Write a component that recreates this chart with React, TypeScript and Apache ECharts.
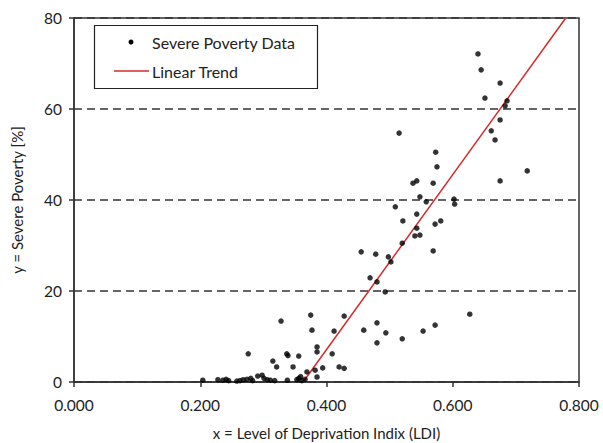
import React, { useEffect, useRef } from "react";
import * as echarts from "echarts";

const xTicks = ["0.000", "0.200", "0.400", "0.600", "0.800"];
const yTicks = [0, 20, 40, 60, 80];

const povertyData: [number, number][] = [
  [0.204, 0.4], [0.228, 0.5], [0.236, 0.4], [0.241, 0.6], [0.245, 0.3], [0.258, 0.2],
  [0.263, 0.3], [0.268, 0.5], [0.274, 0.6], [0.280, 0.8], [0.283, 0.3], [0.291, 1.3],
  [0.298, 1.5], [0.301, 0.8], [0.306, 0.5], [0.311, 0.4], [0.318, 0.3], [0.338, 0.4],
  [0.353, 0.5], [0.356, 0.8], [0.359, 1.2], [0.361, 0.3], [0.366, 0.6],
  [0.276, 6.2], [0.315, 4.6], [0.321, 3.3], [0.328, 13.4], [0.337, 6.2], [0.339, 5.8],
  [0.347, 3.3], [0.356, 5.7], [0.369, 2.2], [0.375, 14.7], [0.377, 11.4], [0.385, 7.7],
  [0.385, 6.6], [0.382, 2.6], [0.385, 1.1], [0.394, 3.1], [0.409, 6.2], [0.412, 11.2],
  [0.420, 3.3], [0.428, 3.0], [0.428, 14.5], [0.459, 11.4], [0.480, 13.0], [0.480, 8.6],
  [0.494, 10.8], [0.520, 9.5], [0.553, 11.2], [0.572, 12.5], [0.627, 14.9],
  [0.455, 28.6], [0.478, 28.1], [0.498, 27.5], [0.502, 26.4], [0.469, 22.9], [0.480, 22.0],
  [0.493, 19.8], [0.520, 30.5], [0.540, 32.1], [0.548, 32.3], [0.543, 33.8], [0.521, 35.4],
  [0.543, 36.9], [0.509, 38.5], [0.548, 40.7], [0.558, 39.6], [0.537, 43.7], [0.543, 44.2],
  [0.515, 54.7], [0.569, 28.8], [0.572, 34.7], [0.581, 35.4], [0.602, 40.2], [0.603, 39.1],
  [0.569, 43.7], [0.575, 47.3], [0.573, 50.5], [0.675, 44.2], [0.718, 46.4], [0.661, 55.2],
  [0.667, 53.2], [0.675, 57.6], [0.683, 60.7], [0.686, 61.8], [0.651, 62.4], [0.675, 65.7],
  [0.645, 68.6], [0.640, 72.1],
];

const trendData: [number, number][] = [
  [0.363, 0],
  [0.779, 80],
];

const FONT = "Lato";

export default function App() {
  const ref = useRef<HTMLDivElement>(null);
  useEffect(() => {
    if (!ref.current) return;
    const chart = echarts.init(ref.current, null, { renderer: "svg" });
    chart.setOption({
      animation: false,
      backgroundColor: "#ffffff",
      grid: {
        left: 74,
        right: 24,
        top: 18,
        bottom: 61,
        outerBoundsMode: "none",
        containLabel: false,
        show: true,
        borderColor: "#333333",
        borderWidth: 1.5,
        backgroundColor: "transparent",
      },
      xAxis: {
        type: "value",
        min: 0,
        max: 0.8,
        interval: 0.2,
        name: "x = Level of Deprivation Indix (LDI)",
        nameLocation: "middle",
        nameGap: 43,
        nameTextStyle: { fontFamily: FONT, fontSize: 15, color: "#222" },
        axisLine: { show: true, lineStyle: { color: "#333", width: 1.5 } },
        axisTick: { show: true, length: 5, lineStyle: { color: "#333", width: 1.5 } },
        axisLabel: {
          fontFamily: FONT,
          fontSize: 15.5,
          color: "#222",
          margin: 15,
          formatter: (v: number) => xTicks[Math.round(v / 0.2)] ?? "",
        },
        splitLine: { show: false },
      },
      yAxis: {
        type: "value",
        min: 0,
        max: 80,
        interval: 20,
        name: "y = Severe Poverty [%]",
        nameLocation: "middle",
        nameGap: 50,
        nameTextStyle: { fontFamily: FONT, fontSize: 15, color: "#222" },
        axisLine: { show: true, lineStyle: { color: "#333", width: 1.5 } },
        axisTick: { show: true, length: 5, lineStyle: { color: "#333", width: 1.5 } },
        axisLabel: {
          fontFamily: FONT,
          fontSize: 15.5,
          color: "#222",
          margin: 12,
          formatter: (v: number) => (yTicks.includes(v) ? String(v) : ""),
        },
        splitLine: {
          show: true,
          lineStyle: { color: "#333", width: 1.5, type: [8, 5] },
        },
      },
      series: [
        {
          name: "Severe Poverty Data",
          type: "scatter",
          data: povertyData,
          symbol: "circle",
          symbolSize: 5.5,
          itemStyle: { color: "#000000" },
          z: 3,
        },
        {
          name: "Linear Trend",
          type: "line",
          data: trendData,
          showSymbol: false,
          lineStyle: { color: "#d42a2a", width: 1.5 },
          z: 2,
        },
      ],
      graphic: [
        {
          type: "rect",
          shape: { x: 94.5, y: 25.5, width: 223, height: 63 },
          style: { fill: "#ffffff", stroke: "#222", lineWidth: 1.2 },
          z: 100,
        },
        {
          type: "circle",
          shape: { cx: 131, cy: 42, r: 2.5 },
          style: { fill: "#000" },
          z: 101,
        },
        {
          type: "text",
          x: 152,
          y: 42,
          style: {
            text: "Severe Poverty Data",
            fontFamily: FONT,
            fontSize: 16,
            fill: "#222",
            verticalAlign: "middle",
          },
          z: 101,
        },
        {
          type: "line",
          shape: { x1: 114, y1: 71, x2: 149, y2: 71 },
          style: { stroke: "#d42a2a", lineWidth: 1.5 },
          z: 101,
        },
        {
          type: "text",
          x: 152,
          y: 71,
          style: {
            text: "Linear Trend",
            fontFamily: FONT,
            fontSize: 16,
            fill: "#222",
            verticalAlign: "middle",
          },
          z: 101,
        },
      ],
    });
    return () => chart.dispose();
  }, []);
  return (
    <div
      ref={ref}
      style={{ position: "fixed", left: 0, top: 0, width: 603, height: 443 }}
    />
  );
}
